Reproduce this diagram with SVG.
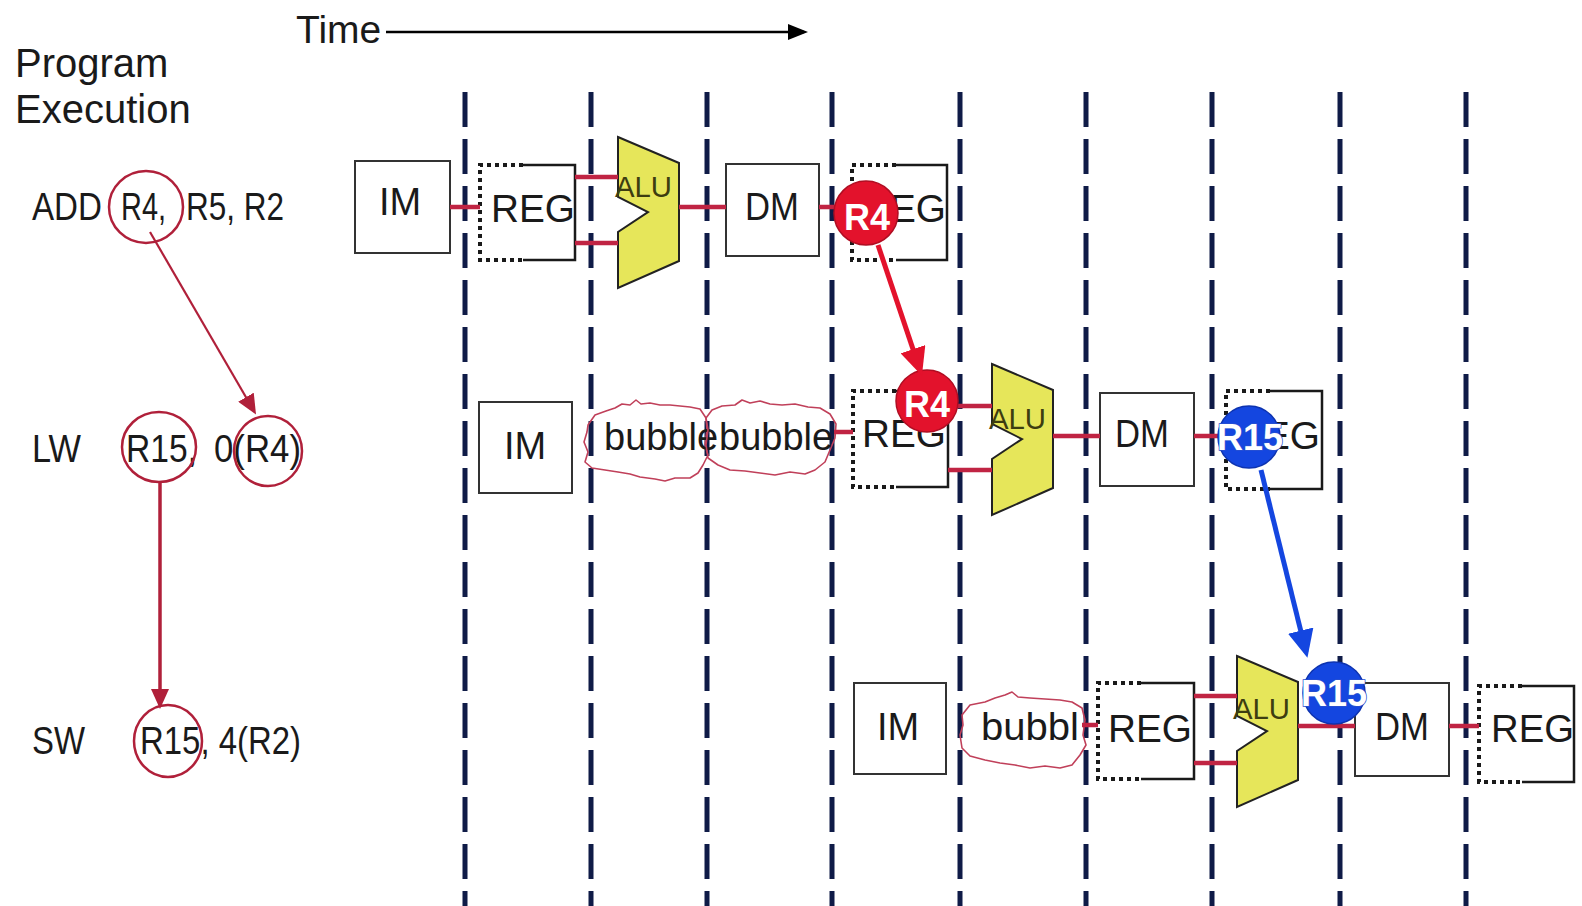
<svg xmlns="http://www.w3.org/2000/svg" width="1582" height="906" viewBox="0 0 1582 906">
<defs>
<style>
text{font-family:"Liberation Sans",Arial,sans-serif;fill:#1a1a1a}
.lbl{font-size:38px}
.box{fill:#fff;stroke:#333;stroke-width:2}
.regs{fill:none;stroke:#1a1a1a;stroke-width:2.5}
.regd{fill:none;stroke:#1a1a1a;stroke-width:4;stroke-dasharray:4 4}
.alu{fill:#e6e65a;stroke:#222;stroke-width:2}
.alut{font-size:30px;fill:#3d3d10}
.bub{fill:none;stroke:#c0405a;stroke-width:1.6;stroke-linejoin:round}
.dash{stroke:#0f1b47;stroke-width:5;stroke-dasharray:35 12}
.wire{stroke:#c02443;stroke-width:4.5}
.ring{fill:none;stroke:#b0203a;stroke-width:2.5}
.rc{fill:#e3122c;stroke:#b00d22;stroke-width:1.5}
.bc{fill:#1446e0;stroke:#0d33b0;stroke-width:1.5}
.ct{font-size:36px;font-weight:bold;fill:#fff;text-anchor:middle}
.ctb{font-size:36px;font-weight:bold;fill:#fff;text-anchor:middle;stroke:#2a50d0;stroke-width:1.5;paint-order:stroke}
</style>
<marker id="ahK" markerUnits="userSpaceOnUse" markerWidth="20" markerHeight="16" viewBox="0 0 20 16" refX="16" refY="8" orient="auto"><path d="M0,0 L20,8 L0,16 z" fill="#000"/></marker>
<marker id="ahR" markerUnits="userSpaceOnUse" markerWidth="28" markerHeight="26" viewBox="0 0 28 26" refX="22" refY="13" orient="auto"><path d="M0,0 L28,13 L0,26 z" fill="#e3122c"/></marker>
<marker id="ahB" markerUnits="userSpaceOnUse" markerWidth="28" markerHeight="26" viewBox="0 0 28 26" refX="22" refY="13" orient="auto"><path d="M0,0 L28,13 L0,26 z" fill="#1446e0"/></marker>
<marker id="ahL" markerUnits="userSpaceOnUse" markerWidth="20" markerHeight="18" viewBox="0 0 20 18" refX="16" refY="9" orient="auto"><path d="M0,0 L20,9 L0,18 z" fill="#b0203a"/></marker>
<path id="aluShape" d="M0,0 L61,26 L61,124 L0,151 L0,95 L30,75 L0,60 Z"/>
</defs>
<rect width="1582" height="906" fill="#fff"/>

<!-- titles -->
<g id="title">
<text x="15" y="77" font-size="40">Program</text>
<text x="15" y="123" font-size="40">Execution</text>
</g>
<g id="time">
<text x="296" y="43" font-size="39">Time</text>
<line x1="386" y1="32" x2="804" y2="32" stroke="#000" stroke-width="2.5" marker-end="url(#ahK)"/>
</g>

<!-- stage separators -->
<g id="separators">
<line class="dash" x1="465" y1="92" x2="465" y2="906"/>
<line class="dash" x1="591" y1="92" x2="591" y2="906"/>
<line class="dash" x1="707" y1="92" x2="707" y2="906"/>
<line class="dash" x1="832" y1="92" x2="832" y2="906"/>
<line class="dash" x1="960" y1="92" x2="960" y2="906"/>
<line class="dash" x1="1086" y1="92" x2="1086" y2="906"/>
<line class="dash" x1="1212" y1="92" x2="1212" y2="906"/>
<line class="dash" x1="1340" y1="92" x2="1340" y2="906"/>
<line class="dash" x1="1466" y1="92" x2="1466" y2="906"/>
</g>

<!-- instructions -->
<g id="instr-add">
<text x="32" y="220" font-size="39" textLength="70" lengthAdjust="spacingAndGlyphs">ADD</text>
<text x="121" y="220" font-size="39" textLength="45" lengthAdjust="spacingAndGlyphs">R4,</text>
<text x="186" y="220" font-size="39" textLength="98" lengthAdjust="spacingAndGlyphs">R5, R2</text>
<ellipse class="ring" cx="146" cy="207" rx="37" ry="36"/>
</g>
<g id="instr-lw">
<text x="32" y="462" font-size="39" textLength="49" lengthAdjust="spacingAndGlyphs">LW</text>
<text x="126" y="462" font-size="39" textLength="71" lengthAdjust="spacingAndGlyphs">R15,</text>
<text x="214" y="462" font-size="39" textLength="87" lengthAdjust="spacingAndGlyphs">0(R4)</text>
<ellipse class="ring" cx="159" cy="447" rx="37" ry="35"/>
<ellipse class="ring" cx="268" cy="451" rx="34" ry="35"/>
</g>
<g id="instr-sw">
<text x="32" y="754" font-size="39" textLength="53" lengthAdjust="spacingAndGlyphs">SW</text>
<text x="140" y="754" font-size="39" textLength="161" lengthAdjust="spacingAndGlyphs">R15, 4(R2)</text>
<ellipse class="ring" cx="168" cy="741" rx="34" ry="36"/>
</g>

<!-- row 1 : ADD -->
<g id="add-im"><rect class="box" x="355" y="161" width="95" height="92"/><text class="lbl" x="400" y="215" text-anchor="middle">IM</text></g>
<g id="add-reg1"><path class="regs" d="M523,165 H575 V260 H523"/><path class="regd" d="M523,165 H480 V260 H523"/><text class="lbl" x="491" y="222" textLength="84" lengthAdjust="spacingAndGlyphs">REG</text></g>
<g id="add-alu"><use href="#aluShape" class="alu" x="618" y="137"/><text class="alut" x="615" y="197" textLength="57" lengthAdjust="spacingAndGlyphs">ALU</text></g>
<g id="add-dm"><rect class="box" x="726" y="164" width="93" height="92"/><text class="lbl" x="772" y="220" text-anchor="middle" textLength="54" lengthAdjust="spacingAndGlyphs">DM</text></g>
<g id="add-reg2"><path class="regs" d="M896,165 H947 V260 H896"/><path class="regd" d="M896,165 H852 V260 H896"/><text class="lbl" x="862" y="222" textLength="84" lengthAdjust="spacingAndGlyphs">REG</text></g>

<!-- row 2 : LW -->
<g id="lw-im"><rect class="box" x="479" y="402" width="93" height="91"/><text class="lbl" x="525" y="459" text-anchor="middle">IM</text></g>
<g id="lw-bubble1"><path class="bub" d="M588,425 L595,415 L606,411 L615,408 L622,404 L630,405 L636,400 L641,404 L650,403 L660,405 L670,405 L680,406 L690,407 L700,409 L706,418 L707,430 L705,445 L708,455 L703,465 L698,473 L690,478 L675,478 L665,481 L655,479 L640,477 L630,474 L618,472 L605,470 L592,468 L585,462 L588,452 L584,442 L587,432 Z"/><text class="lbl" x="604" y="450">bubble</text></g>
<g id="lw-bubble2"><path class="bub" d="M706,418 L712,410 L722,406 L735,405 L742,400 L750,403 L760,401 L770,404 L782,405 L795,404 L808,407 L820,408 L830,414 L836,424 L835,438 L830,450 L825,462 L815,470 L805,474 L790,472 L775,475 L760,473 L745,471 L730,470 L718,465 L708,458 L706,445 L708,430 Z"/><text class="lbl" x="719" y="450">bubble</text></g>
<g id="lw-reg1"><path class="regs" d="M896,391 H948 V487 H896"/><path class="regd" d="M896,391 H853 V487 H896"/><text class="lbl" x="862" y="447" textLength="84" lengthAdjust="spacingAndGlyphs">REG</text></g>
<g id="lw-alu"><use href="#aluShape" class="alu" x="992" y="364"/><text class="alut" x="989" y="429" textLength="57" lengthAdjust="spacingAndGlyphs">ALU</text></g>
<g id="lw-dm"><rect class="box" x="1100" y="393" width="94" height="93"/><text class="lbl" x="1142" y="447" text-anchor="middle" textLength="54" lengthAdjust="spacingAndGlyphs">DM</text></g>
<g id="lw-reg2"><path class="regs" d="M1270,391 H1322 V489 H1270"/><path class="regd" d="M1270,391 H1226 V489 H1270"/><text class="lbl" x="1236" y="449" textLength="84" lengthAdjust="spacingAndGlyphs">REG</text></g>

<!-- row 3 : SW -->
<g id="sw-im"><rect class="box" x="854" y="683" width="92" height="91"/><text class="lbl" x="898" y="740" text-anchor="middle">IM</text></g>
<g id="sw-bubble"><path class="bub" d="M962,715 L970,705 L985,702 L995,698 L1005,695 L1012,692 L1018,697 L1030,698 L1045,699 L1060,700 L1072,702 L1082,708 L1085,720 L1083,735 L1086,745 L1080,755 L1072,765 L1060,768 L1045,766 L1030,768 L1015,765 L1000,763 L985,760 L970,756 L962,748 L960,735 L963,725 Z"/><text class="lbl" x="981" y="740" textLength="98" lengthAdjust="spacingAndGlyphs">bubbl</text></g>
<g id="sw-reg1"><path class="regs" d="M1141,683 H1194 V779 H1141"/><path class="regd" d="M1141,683 H1098 V779 H1141"/><text class="lbl" x="1108" y="742" textLength="84" lengthAdjust="spacingAndGlyphs">REG</text></g>
<g id="sw-alu"><use href="#aluShape" class="alu" x="1237" y="656"/><text class="alut" x="1233" y="719" textLength="57" lengthAdjust="spacingAndGlyphs">ALU</text></g>
<g id="sw-dm"><rect class="box" x="1355" y="683" width="94" height="93"/><text class="lbl" x="1402" y="740" text-anchor="middle" textLength="54" lengthAdjust="spacingAndGlyphs">DM</text></g>
<g id="sw-reg2"><path class="regs" d="M1522,686 H1574 V782 H1522"/><path class="regd" d="M1522,686 H1479 V782 H1522"/><text class="lbl" x="1491" y="742" textLength="83" lengthAdjust="spacingAndGlyphs">REG</text></g>

<!-- connectors -->
<g id="connectors">
<line class="wire" x1="450" y1="207" x2="480" y2="207"/>
<line class="wire" x1="575" y1="177" x2="618" y2="177"/>
<line class="wire" x1="575" y1="243" x2="618" y2="243"/>
<line class="wire" x1="679" y1="207" x2="726" y2="207"/>
<line class="wire" x1="819" y1="207" x2="852" y2="207"/>

<line class="wire" x1="834" y1="432" x2="853" y2="432"/>
<line class="wire" x1="948" y1="406" x2="992" y2="406"/>
<line class="wire" x1="948" y1="470" x2="992" y2="470"/>
<line class="wire" x1="1053" y1="436" x2="1100" y2="436"/>
<line class="wire" x1="1194" y1="436" x2="1226" y2="436"/>

<line class="wire" x1="1082" y1="725" x2="1098" y2="725"/>
<line class="wire" x1="1194" y1="696" x2="1237" y2="696"/>
<line class="wire" x1="1194" y1="763" x2="1237" y2="763"/>
<line class="wire" x1="1298" y1="726" x2="1355" y2="726"/>
<line class="wire" x1="1449" y1="726" x2="1479" y2="726"/>

<line x1="150" y1="232" x2="254" y2="411" stroke="#b0203a" stroke-width="2.2" marker-end="url(#ahL)"/>
<line x1="160" y1="483" x2="160" y2="705" stroke="#b0203a" stroke-width="3.5" marker-end="url(#ahL)"/>
</g>

<!-- forwarded values -->
<g id="fwd-r4-src"><circle class="rc" cx="866" cy="213" r="32"/><text class="ct" x="867" y="230">R4</text></g>
<g id="fwd-r4-dst"><circle class="rc" cx="927" cy="401" r="31"/><text class="ct" x="927" y="417">R4</text></g>
<g id="fwd-r15-src"><circle class="bc" cx="1249" cy="437" r="31"/><text class="ctb" x="1250" y="450">R15</text></g>
<g id="fwd-r15-dst"><circle class="bc" cx="1334" cy="693" r="31"/><text class="ctb" x="1334" y="706">R15</text></g>
<g id="forwarding">
<line x1="878" y1="245" x2="920" y2="370" stroke="#e3122c" stroke-width="5" marker-end="url(#ahR)"/>
<line x1="1261" y1="470" x2="1306" y2="652" stroke="#1446e0" stroke-width="5" marker-end="url(#ahB)"/>
</g>
</svg>
